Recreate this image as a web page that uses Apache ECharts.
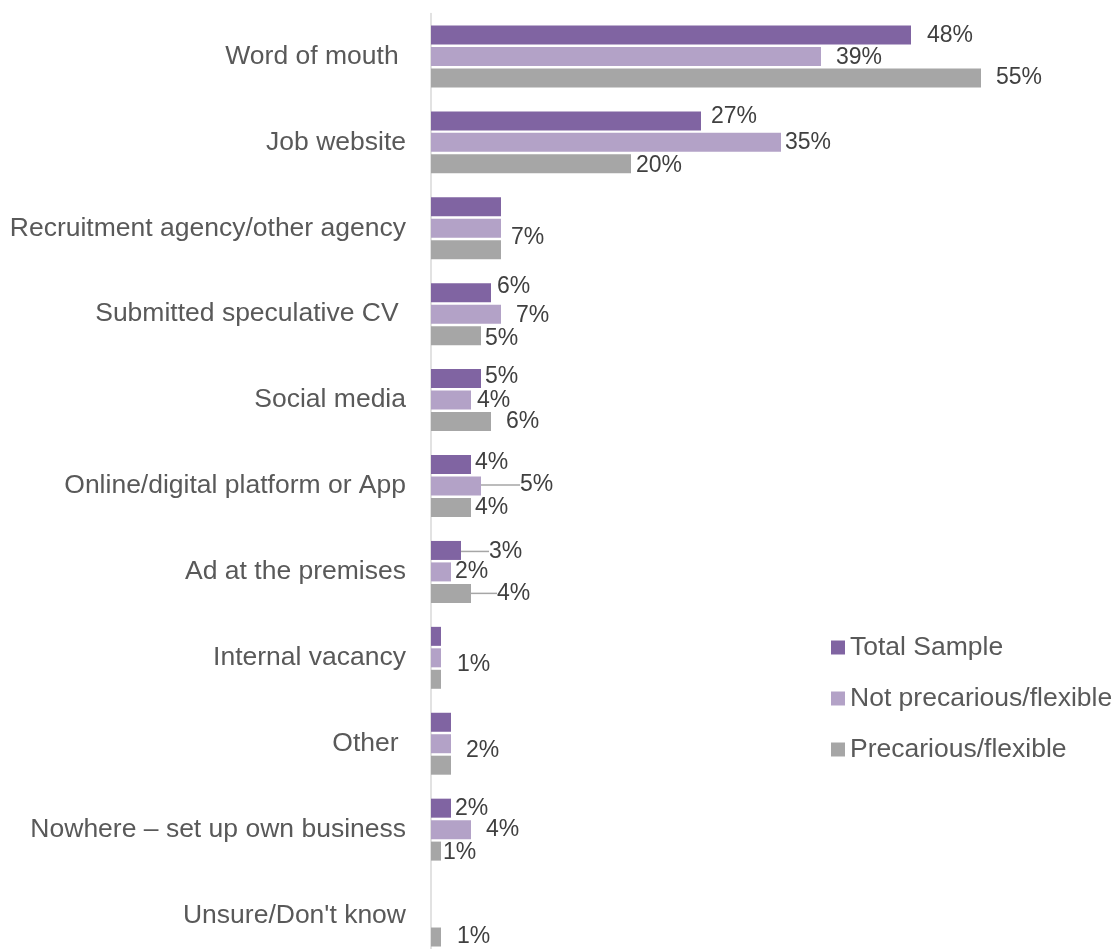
<!DOCTYPE html>
<html>
<head>
<meta charset="utf-8">
<title>Where the job was found</title>
<script src="https://cdn.jsdelivr.net/npm/echarts@6/dist/echarts.min.js"></script>
<style>
  html, body { margin: 0; padding: 0; background: #ffffff; }
  #chart { width: 1116px; height: 949px; }
</style>
</head>
<body>
<div id="chart"></div>
<script>
// Channels through which the current job was found (share of respondents, %)
const categories = [
  'Word of mouth ',
  'Job website',
  'Recruitment agency/other agency',
  'Submitted speculative CV ',
  'Social media',
  'Online/digital platform or App',
  'Ad at the premises',
  'Internal vacancy',
  'Other ',
  'Nowhere \u2013 set up own business',
  "Unsure/Don't know"
];
const seriesNames = ['Total Sample', 'Not precarious/flexible', 'Precarious/flexible'];
const totalSample   = [48, 27, 7, 6, 5, 4, 3, 1, 2, 2, 0];
const notPrecarious = [39, 35, 7, 7, 4, 5, 2, 1, 2, 4, 0];
const precarious    = [55, 20, 7, 5, 6, 4, 4, 1, 2, 1, 1];

// Label nudges [dx, dy] from the default "right" spot; null = label not drawn
const labelNudges = [
  [[11, 1], [5, -4], null, [1, -6.5], [-1, -2], [-1, -2], [23, 1], null, null, [-1, 0], null],
  [[10, 1], [-1, 0], [5, 9], [10, 1], [1, 1], [34, -1], [-1, 0], [11, 6.5], [10, 6.5], [10, 0], null],
  [[10, 0], [0, 2], null, [-1, 3], [10, 0], [-1, 0], [21, 0], null, null, [-3, 2], [11, 0]]
];
// Labels pulled away from their bar get a leader line
const leaderLines = [[6], [5], [6]];

const colors = ['#8064A2', '#B3A2C7', '#A6A6A6'];
const FONT = '"Liberation Sans", Arial, sans-serif';

function buildData(values, s) {
  return values.map(function (v, i) {
    const item = { value: v };
    if (!labelNudges[s][i]) {
      item.label = { show: false };
    }
    if (leaderLines[s].indexOf(i) !== -1) {
      item.labelLine = { show: true, lineStyle: { color: '#A6A6A6', width: 1.5 } };
    }
    return item;
  });
}

const seriesValues = [totalSample, notPrecarious, precarious];

const chart = echarts.init(document.getElementById('chart'), null, { renderer: 'canvas' });

chart.setOption({
  animation: false,
  backgroundColor: '#ffffff',
  color: colors,
  textStyle: { fontFamily: FONT },
  grid: {
    left: 431,
    top: 13.5,
    width: 600,
    height: 945,
    containLabel: false,
    outerBoundsMode: 'none'
  },
  legend: {
    orient: 'vertical',
    left: 826,
    top: 629,
    itemWidth: 14,
    itemHeight: 14,
    itemGap: 24,
    icon: 'rect',
    selectedMode: false,
    data: seriesNames,
    textStyle: { fontSize: 26.5, color: '#595959', fontFamily: FONT }
  },
  xAxis: {
    type: 'value',
    min: 0,
    max: 60,
    show: false
  },
  yAxis: {
    type: 'category',
    inverse: true,
    data: categories,
    axisLine: { show: true, lineStyle: { color: '#D9D9D9', width: 1.5 } },
    axisTick: { show: false },
    splitLine: { show: false },
    axisLabel: { fontSize: 26.5, color: '#595959', margin: 25, fontFamily: FONT }
  },
  series: seriesValues.map(function (vals, s) {
    return {
      name: seriesNames[s],
      type: 'bar',
      barWidth: 19,
      barGap: '13%',
      data: buildData(vals, s),
      itemStyle: { color: colors[s] },
      label: {
        show: true,
        position: 'right',
        distance: 5,
        formatter: '{c}%',
        fontSize: 23,
        color: '#404040',
        fontFamily: FONT
      },
      labelLine: { show: false },
      labelLayout: function (p) {
        const n = labelNudges[s][p.dataIndex];
        return n ? { dx: n[0], dy: n[1] } : {};
      }
    };
  })
});
</script>
</body>
</html>
